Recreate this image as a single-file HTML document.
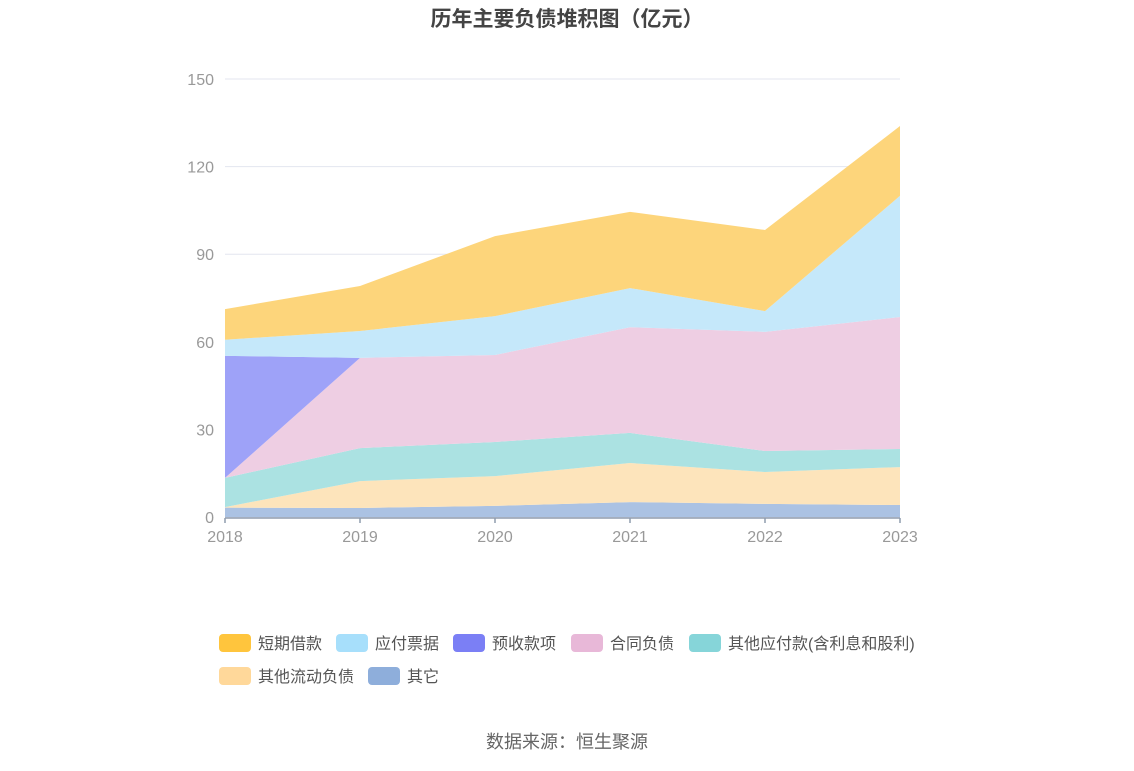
<!DOCTYPE html>
<html><head><meta charset="utf-8"><style>
body{margin:0;background:#fff;font-family:"Liberation Sans","Noto Sans CJK SC",sans-serif;}
#wrap{position:relative;width:1134px;height:766px;}
</style></head><body>
<div id="wrap">
<svg id="chart" width="1134" height="766" xmlns="http://www.w3.org/2000/svg"></svg>
</div>
<script>
const years=["2018","2019","2020","2021","2022","2023"];
const seriesNames=["其它","其他流动负债","其他应付款(含利息和股利)","合同负债","预收款项","应付票据","短期借款"];
const qita=[3.2,3.1,3.8,5.1,4.5,4.1];
const qitaLiudong=[0.2,9.2,10.2,13.4,10.9,13.0];
const qitaYingfu=[10.0,11.3,11.7,10.3,7.2,6.2];
const hetong=[0,30.9,29.8,36.2,40.8,45.2];
const yushou=[41.8,0,0,0,0,0];
const yingfuPiaoju=[5.5,9.2,13.3,13.4,7.1,41.5];
const duanqi=[10.5,15.4,27.4,26.1,27.8,23.9];
const yTicks=[0,30,60,90,120,150];

const NS="http://www.w3.org/2000/svg";
const svg=document.getElementById('chart');
function mk(t,a,p){const e=document.createElementNS(NS,t);for(const k in a)e.setAttribute(k,a[k]);(p||svg).appendChild(e);return e;}
const x=i=>225+i*135;
const y=v=>517-v*438/150;
const font='"Liberation Sans","Noto Sans CJK SC",sans-serif';

let t=mk('text',{x:567,y:26,'text-anchor':'middle','font-size':21,'font-weight':'bold',fill:'#444','font-family':font});
t.textContent='历年主要负债堆积图（亿元）';



yTicks.forEach(v=>{
  const l=mk('line',{x1:225,x2:900,y1:y(v),y2:y(v),stroke:'#e3e6ef','stroke-width':1});
  
  
  const tx=mk('text',{x:214,y:y(v)+6,'text-anchor':'end','font-size':16,fill:'#999','font-family':font});
  tx.textContent=v;
  
  
});

const data=[qita,qitaLiudong,qitaYingfu,hetong,yushou,yingfuPiaoju,duanqi];
const fills=["#abc2e3","#fde4bb","#abe2e2","#eecee3","#9ea2f8","#c5e8fa","#fdd57b"];
const names=["area-qita","area-other-current","area-other-payables","area-contract","area-advance","area-notes-payable","area-short-loans"];
let base=years.map(()=>0);
data.forEach((s,k)=>{
  const top=base.map((b,i)=>b+s[i]);
  let d='M'+top.map((v,i)=>x(i)+','+y(v)).join(' L');
  for(let i=years.length-1;i>=0;i--)d+=' L'+x(i)+','+y(base[i]);
  d+='Z';
  const p=mk('path',{d:d,fill:fills[k]});
  
  
  base=top;
});

const ax=mk('line',{x1:225,x2:900,y1:518,y2:518,stroke:'#8f9cae','stroke-width':1.5});


years.forEach((yr,i)=>{
  const tk=mk('line',{x1:x(i),x2:x(i),y1:518,y2:523,stroke:'#8f9cae','stroke-width':1.5});
  
  
  const tx=mk('text',{x:x(i),y:542,'text-anchor':'middle','font-size':16,fill:'#999','font-family':font});
  tx.textContent=yr;
  
  
});

const legend=[["短期借款","#ffc53d",219,643],["应付票据","#a7dffb",336,643],["预收款项","#7b7ff5",453,643],["合同负债","#e8b8d8",571,643],["其他应付款(含利息和股利)","#86d5d9",689,643],["其他流动负债","#ffd89a",219,676],["其它","#8eaedb",368,676]];
legend.forEach(l=>{
  const g=mk('g',{});
  
  
  mk('rect',{x:l[2],y:l[3]-9,width:32,height:18,rx:4,fill:l[1]},g);
  const tx=mk('text',{x:l[2]+39,y:l[3]+6,'font-size':16,fill:'#555','font-family':font},g);
  tx.textContent=l[0];
});

const src=mk('text',{x:567,y:748,'text-anchor':'middle','font-size':18,fill:'#666','font-family':font});
src.textContent='数据来源：恒生聚源';


</script>
</body></html>
